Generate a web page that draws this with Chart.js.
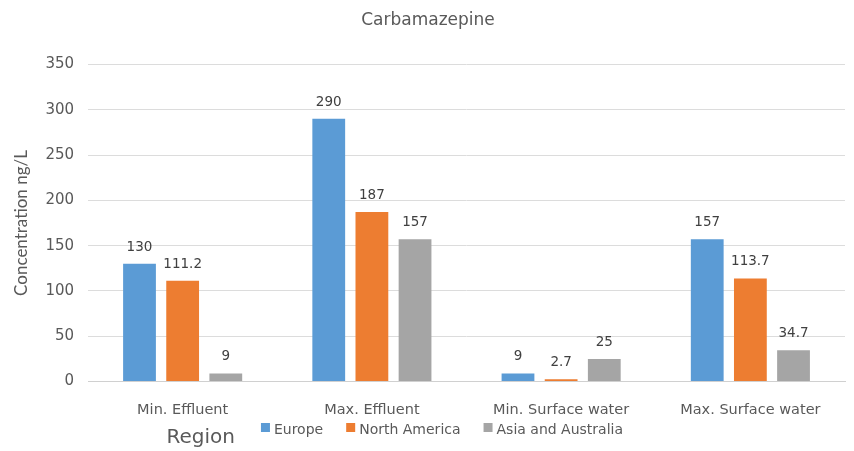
<!DOCTYPE html>
<html>
<head>
<meta charset="utf-8">
<script src="https://cdn.jsdelivr.net/npm/chart.js@4"></script>
<style>
  html, body { margin: 0; padding: 0; background: #fff; }
  #wrap { width: 854px; height: 451px; }
</style>
</head>
<body>
<div id="wrap"><canvas id="chart"></canvas></div>
<script>
const categories = ["Min. Effluent", "Max. Effluent", "Min. Surface water", "Max. Surface water"];
const europe = [130, 290, 9, 157];
const northAmerica = [111.2, 187, 2.7, 113.7];
const asiaAustralia = [9, 157, 25, 34.7];

const FONT = "'DejaVu Sans', sans-serif";
const TEXT = "#595959";

// value labels above each bar
const barLabels = {
  id: "barLabels",
  afterDatasetsDraw(chart) {
    const ctx = chart.ctx;
    ctx.save();
    ctx.font = "13.5px " + FONT;
    ctx.fillStyle = "#404040";
    ctx.textAlign = "center";
    ctx.textBaseline = "bottom";
    chart.data.datasets.forEach((ds, i) => {
      chart.getDatasetMeta(i).data.forEach((bar, j) => {
        ctx.fillText(String(ds.data[j]), bar.x, bar.y - 10);
      });
    });
    ctx.restore();
  }
};

// bottom legend with the "Region" caption in front of it
const regionLegend = {
  id: "regionLegend",
  afterDraw(chart) {
    const ctx = chart.ctx;
    const sets = chart.data.datasets;
    const box = 9, gapText = 4, gapItem = 23;
    const y = chart.height - 21;
    ctx.save();
    ctx.font = "14px " + FONT;
    const widths = sets.map(ds => ctx.measureText(ds.label).width);
    const total = widths.reduce((a, w) => a + box + gapText + w, 0) + gapItem * (sets.length - 1);
    let x = chart.width / 2 + 15 - total / 2;
    const start = x;
    ctx.textBaseline = "middle";
    ctx.textAlign = "left";
    sets.forEach((ds, i) => {
      ctx.fillStyle = ds.backgroundColor;
      ctx.fillRect(x, y - 7, box, box);
      ctx.fillStyle = TEXT;
      ctx.fillText(ds.label, x + box + gapText, y);
      x += box + gapText + widths[i] + gapItem;
    });
    ctx.font = "20px " + FONT;
    ctx.textAlign = "right";
    ctx.fillText("Region", start - 26, y + 8);
    ctx.restore();
  }
};

new Chart(document.getElementById("chart"), {
  type: "bar",
  data: {
    labels: categories,
    datasets: [
      { label: "Europe", data: europe, backgroundColor: "#5B9BD5" },
      { label: "North America", data: northAmerica, backgroundColor: "#ED7D31" },
      { label: "Asia and Australia", data: asiaAustralia, backgroundColor: "#A5A5A5" }
    ]
  },
  options: {
    responsive: true,
    maintainAspectRatio: false,
    animation: false,
    categoryPercentage: 0.684,
    barPercentage: 0.76,
    layout: { padding: { left: 11, right: 9, top: 4, bottom: 12 } },
    scales: {
      x: {
        grid: { display: false, drawTicks: false },
        border: { color: "#d0d0d0" },
        ticks: { maxRotation: 0, color: TEXT, font: { family: FONT, size: 14.5 }, padding: 20 }
      },
      y: {
        min: 0,
        max: 350,
        ticks: { stepSize: 50, color: TEXT, font: { family: FONT, size: 15 }, padding: 14 },
        grid: { color: "#dcdcdc", drawTicks: false },
        border: { display: false },
        title: {
          display: true,
          text: "Concentration ng/L",
          color: TEXT,
          font: { family: "Lato, sans-serif", size: 17 },
          padding: { top: 0, bottom: 0 }
        }
      }
    },
    plugins: {
      title: {
        display: true,
        text: "Carbamazepine",
        color: TEXT,
        font: { family: FONT, size: 17, weight: "normal" },
        padding: { top: 6, bottom: 34 }
      },
      legend: { display: false },
      tooltip: { enabled: false }
    }
  },
  plugins: [barLabels, regionLegend]
});
</script>
</body>
</html>
